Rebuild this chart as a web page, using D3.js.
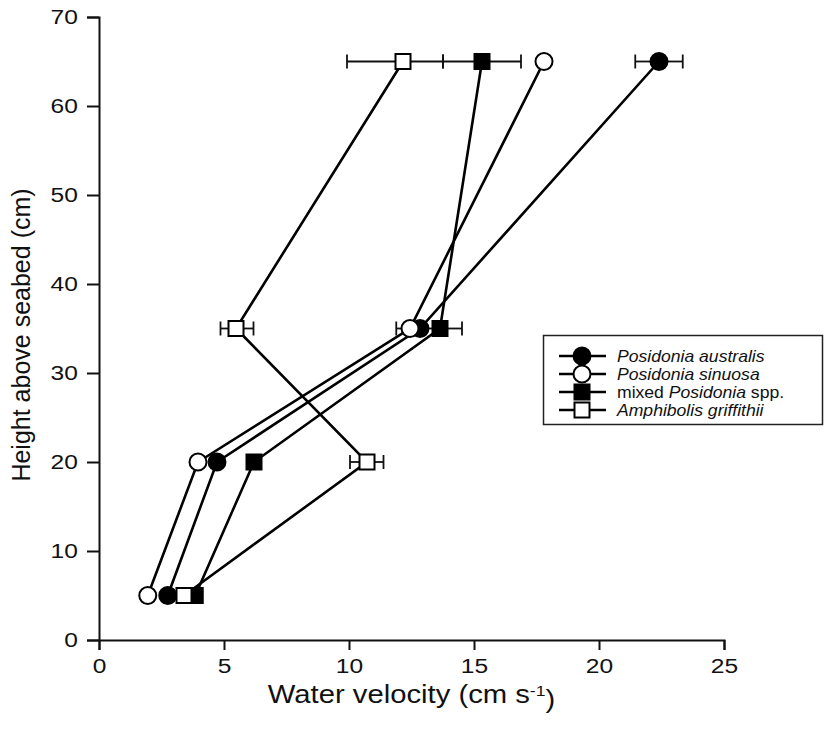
<!DOCTYPE html>
<html>
<head>
<meta charset="utf-8">
<script src="https://cdn.jsdelivr.net/npm/d3@7"></script>
<style>
  html, body { margin: 0; padding: 0; background: #fff; }
  #graph { width: 825px; height: 743px; }
  text { font-family: "Liberation Sans", Arial, sans-serif; fill: #111; }
</style>
</head>
<body>
<div id="graph"></div>
<script>
// heights (cm) at which velocity was measured
const heights = [5, 20, 35, 65];

// mean water velocity (cm s-1) per height, and error bar half-widths (low / high side)
const australis = [2.75, 4.72, 12.84, 22.4];
const australisErrLo = [0, 0, 0, 0.95];
const australisErrHi = [0, 0, 0, 0.95];

const sinuosa = [1.95, 3.96, 12.44, 17.8];
const sinuosaErrLo = [0, 0, 0.55, 0];
const sinuosaErrHi = [0, 0, 0.3, 0];

const mixed = [3.85, 6.2, 13.64, 15.32];
const mixedErrLo = [0, 0, 0.88, 1.56];
const mixedErrHi = [0, 0, 0.88, 1.56];

const amphibolis = [3.4, 10.72, 5.48, 12.16];
const amphibolisErrLo = [0, 0.68, 0.62, 2.24];
const amphibolisErrHi = [0, 0.66, 0.7, 1.6];

const xTicks = [0, 5, 10, 15, 20, 25];
const yTicks = [0, 10, 20, 30, 40, 50, 60, 70];

const series = [
    { name: ["", "Posidonia australis", ""], values: australis, lo: australisErrLo, hi: australisErrHi, shape: "circle", fill: "#000" },
    { name: ["", "Posidonia sinuosa", ""], values: sinuosa, lo: sinuosaErrLo, hi: sinuosaErrHi, shape: "circle", fill: "#fff" },
    { name: ["mixed ", "Posidonia", " spp."], values: mixed, lo: mixedErrLo, hi: mixedErrHi, shape: "square", fill: "#000" },
    { name: ["", "Amphibolis griffithii", ""], values: amphibolis, lo: amphibolisErrLo, hi: amphibolisErrHi, shape: "square", fill: "#fff" },
];

const width = 825, height = 743;
const margin = { left: 99, right: 101, top: 17, bottom: 103 };
// the original figure is a little wider than tall in its lettering
const STRETCH = 1.17;

const x = d3.scaleLinear().domain([0, 25]).range([margin.left, width - margin.right]);
const y = d3.scaleLinear().domain([0, 70]).range([height - margin.bottom, margin.top]);

const svg = d3.select("#graph").append("svg")
    .attr("width", width)
    .attr("height", height);

// axes
const xAxis = svg.append("g")
    .attr("transform", `translate(0,${y(0)})`)
    .call(d3.axisBottom(x).tickValues(xTicks).tickSizeOuter(0).tickSize(10).tickPadding(8));
const yAxis = svg.append("g")
    .attr("transform", `translate(${x(0)},0)`)
    .call(d3.axisLeft(y).tickValues(yTicks).tickSizeOuter(0).tickSize(12).tickPadding(6));

[xAxis, yAxis].forEach(a => {
    a.selectAll("path, line").attr("stroke", "#111").attr("stroke-width", 2);
    a.selectAll("text")
        .style("font-size", "21px")
        .attr("fill", "#111")
        .attr("transform", `scale(${STRETCH},1)`);
});

// axis titles
svg.append("g")
    .attr("transform", `translate(${(x(0) + x(25)) / 2},703) scale(${STRETCH},1)`)
    .append("text")
    .attr("text-anchor", "middle")
    .style("font-size", "25px")
    .call(t => {
        t.append("tspan").text("Water velocity (cm s");
        t.append("tspan").attr("dy", "-0.45em").style("font-size", "15px").text("-1");
        t.append("tspan").attr("dy", "0.45em").text(")");
    });

svg.append("text")
    .attr("transform", `translate(30,335) rotate(-90)`)
    .attr("text-anchor", "middle")
    .style("font-size", "25px")
    .text("Height above seabed (cm)");

const line = d3.line()
    .x(d => x(d[0]))
    .y(d => y(d[1]));

function drawMarker(g, shape, fill, cx, cy) {
    if (shape === "circle") {
        g.append("circle")
            .attr("cx", cx).attr("cy", cy).attr("r", 8.5)
            .attr("fill", fill).attr("stroke", "#000").attr("stroke-width", 2);
    } else {
        g.append("rect")
            .attr("x", cx - 7.5).attr("y", cy - 7.5)
            .attr("width", 15).attr("height", 15)
            .attr("fill", fill).attr("stroke", "#000").attr("stroke-width", 2);
    }
}

// error bars first, so markers sit on top
series.forEach(s => {
    const g = svg.append("g").attr("stroke", "#111").attr("stroke-width", 1.8);
    s.values.forEach((v, i) => {
        const cy = y(heights[i]);
        if (s.lo[i] > 0) {
            g.append("line").attr("x1", x(v - s.lo[i])).attr("x2", x(v)).attr("y1", cy).attr("y2", cy);
            g.append("line").attr("x1", x(v - s.lo[i])).attr("x2", x(v - s.lo[i])).attr("y1", cy - 7).attr("y2", cy + 7);
        }
        if (s.hi[i] > 0) {
            g.append("line").attr("x1", x(v)).attr("x2", x(v + s.hi[i])).attr("y1", cy).attr("y2", cy);
            g.append("line").attr("x1", x(v + s.hi[i])).attr("x2", x(v + s.hi[i])).attr("y1", cy - 7).attr("y2", cy + 7);
        }
    });
});

series.forEach(s => {
    const g = svg.append("g");
    const pts = s.values.map((v, i) => [v, heights[i]]);
    g.append("path")
        .attr("d", line(pts))
        .attr("fill", "none")
        .attr("stroke", "#000")
        .attr("stroke-width", 2.6);
    pts.forEach(p => drawMarker(g, s.shape, s.fill, x(p[0]), y(p[1])));
});

// legend
const legend = svg.append("g");
legend.append("rect")
    .attr("x", 543.5).attr("y", 335.5)
    .attr("width", 279).attr("height", 89)
    .attr("fill", "#fff").attr("stroke", "#222").attr("stroke-width", 1.5);

series.forEach((s, i) => {
    const ly = 356 + i * 18;
    legend.append("line")
        .attr("x1", 559).attr("x2", 606).attr("y1", ly).attr("y2", ly)
        .attr("stroke", "#000").attr("stroke-width", 2.5);
    drawMarker(legend, s.shape, s.fill, 582, ly);
    const t = legend.append("g")
        .attr("transform", `translate(617,${ly}) scale(1.1,1)`)
        .append("text")
        .attr("dy", "0.36em")
        .style("font-size", "16px");
    t.append("tspan").text(s.name[0]);
    t.append("tspan").style("font-style", "italic").text(s.name[1]);
    t.append("tspan").text(s.name[2]);
});
</script>
</body>
</html>
